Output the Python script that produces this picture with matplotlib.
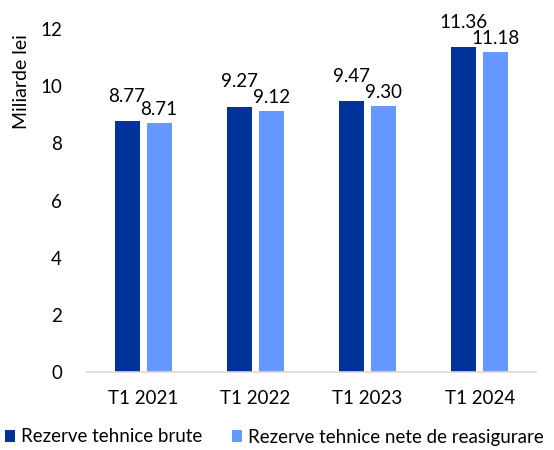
import numpy as np
import matplotlib.pyplot as plt

plt.rcParams['font.family'] = ['Lato', 'DejaVu Sans']

categorii = ['T1 2021', 'T1 2022', 'T1 2023', 'T1 2024']
brute = [8.77, 9.27, 9.47, 11.36]
nete = [8.71, 9.12, 9.30, 11.18]
serii = ['Rezerve tehnice brute', 'Rezerve tehnice nete de reasigurare']
culori = ['#003399', '#6699FF']

fig = plt.figure(figsize=(5.54, 4.5), dpi=100)
ax = fig.add_axes([0.157, 0.173, 0.8105, 0.7626])

x = np.arange(len(categorii))
w = 0.223
off = 0.143
b1 = ax.bar(x - off, brute, w, color=culori[0], label=serii[0])
b2 = ax.bar(x + off, nete, w, color=culori[1], label=serii[1])

# etichete: cele brute putin mai sus ca sa nu se suprapuna
for bars, dy in ((b1, 12), (b2, 4)):
    for b in bars:
        ax.annotate(f'{b.get_height():.2f}',
                    (b.get_x() + b.get_width() / 2, b.get_height()),
                    xytext=(0, dy), textcoords='offset points',
                    ha='center', va='bottom', fontsize=13.5)

ax.set_xlim(-0.5, 3.5)
ax.set_ylim(0, 12)
ax.set_yticks(range(0, 13, 2))
ax.set_xticks(x)
ax.set_xticklabels(categorii)
ax.tick_params(length=0, labelsize=13.5)
ax.tick_params(axis='x', pad=13)
ax.tick_params(axis='y', pad=18)
for s in ['top', 'right', 'left']:
    ax.spines[s].set_visible(False)
ax.spines['bottom'].set_color('#d9d9d9')
ax.spines['bottom'].set_linewidth(1.2)

fig.text(22 / 554, 1 - 82 / 450, 'Miliarde lei', rotation=90,
         ha='center', va='center', fontsize=14)

fig.legend(handles=[b1, b2], loc='center', bbox_to_anchor=(0.495, 1 - 437 / 450),
           ncol=2, frameon=False, fontsize=13.5, handlelength=0.55,
           handleheight=0.55, handletextpad=0.3, columnspacing=1.6)

fig.savefig('out.png', dpi=100)
